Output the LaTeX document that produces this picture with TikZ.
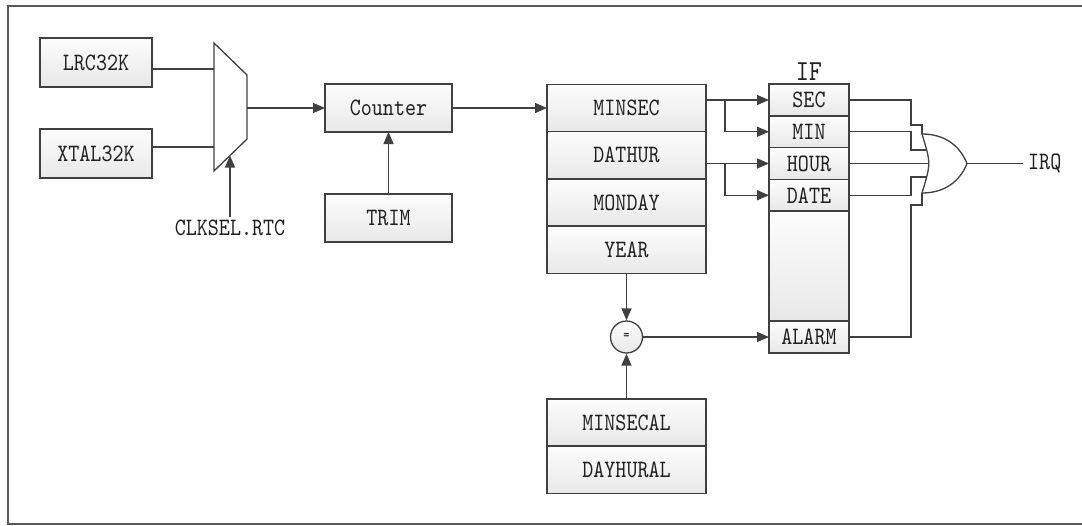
\documentclass[tikz,border=0pt]{standalone}
\usepackage{fontspec}
\usepackage{tikz}
\usetikzlibrary{positioning,arrows.meta}

\newfontfamily\lblmono{lmmono10-regular}[Extension=.otf, FakeStretch=0.84]
\newcommand{\lblfont}{\fontsize{25}{28}\selectfont\lblmono}
\tikzset{
  box/.style={draw=black!75, line width=1.6pt, top color=black!1, bottom color=black!9,
    inner sep=0pt, outer sep=0pt, font=\lblfont, text=black!88},
  src/.style={box, minimum width=112pt, minimum height=49pt},
  blk/.style={box, minimum width=127pt, minimum height=48pt},
  reg/.style={box, minimum width=159pt, minimum height=47.25pt},
  flag/.style={box, minimum width=80pt, minimum height=31.75pt},
  wirecol/.style={black!75, line width=1.3pt},
  wire/.style={wirecol, draw},
}

\begin{document}
\begin{tikzpicture}[x=1pt, y=-1pt, >={Triangle[length=12pt,width=10pt]}]
 \useasboundingbox (0,0) rectangle (1082,525);
 \draw[black!65, line width=1.6pt] (1082,6) -- (8,6) -- (8,524) -- (1082,524);

 % clock sources and mux
 \node[src] (lrc) at (96,62.5) {LRC32K};
 \node[src] (xtal) at (96,153.5) {XTAL32K};
 \draw[wire] (214,43) -- (247,75) -- (247,139) -- (214,171) -- cycle;
 \coordinate (mux-a) at (214,69);
 \coordinate (mux-b) at (214,147);
 \coordinate (mux-o) at (247,108);
 \coordinate (mux-s) at (230,155.5);
 \node[font=\lblfont, text=black!88] (clksel) at (230,228) {CLKSEL.RTC};

 % counter
 \node[blk] (cnt) at (388.5,108) {Counter};
 \node[blk] (trim) at (388.5,218) {TRIM};

 % time registers
 \node[reg] (minsec) at (626.5,108) {MINSEC};
 \node[reg, below=0pt of minsec] (dathur) {DATHUR};
 \node[reg, below=0pt of dathur] (monday) {MONDAY};
 \node[reg, below=0pt of monday] (year) {YEAR};
 \node[reg] (minsecal) at (626.5,422.5) {MINSECAL};
 \node[reg, below=0pt of minsecal] (dayhural) {DAYHURAL};

 % IF flags
 \node[flag] (ifsec) at (809,100) {SEC};
 \node[flag, below=0pt of ifsec] (ifmin) {MIN};
 \node[flag, below=0pt of ifmin] (ifhour) {HOUR};
 \node[flag, below=0pt of ifhour] (ifdate) {DATE};
 \node[flag, minimum height=110pt, below=0pt of ifdate] (ifgap) {};
 \node[flag, below=0pt of ifgap] (ifalarm) {ALARM};
 \node[font=\fontsize{29}{32}\selectfont\lblmono, text=black!88, above=0pt of ifsec] (iflbl) {IF};

 % compare
 \node[circle, draw=black!75, line width=1.3pt, top color=black!1, bottom color=black!9,
   minimum size=32pt, inner sep=0pt, font=\fontsize{14}{16}\selectfont\lblmono] (eq) at (year |- ifalarm) {=};

 % or gate
 \coordinate (gt) at (922,134);
 \coordinate (gb) at (922,193);
 \coordinate (gtip) at (967,163.5);
 \coordinate (s1) at (911,125);
 \coordinate (m1) at (911,150);
 \coordinate (d1) at (911,177);
 \coordinate (a1) at (911,205);
 \coordinate (g2) at (926.8,150);
 \coordinate (g3) at (928.75,163.5);
 \coordinate (g4) at (926.8,177);
 \coordinate (br) at (725,0);
 \draw[wire] (gt) .. controls (945,134) and (960,146) .. (gtip) .. controls (960,181) and (945,193) .. (gb) .. controls (931,163.5) .. (gt);
 \node[font=\lblfont, text=black!88, anchor=west, inner sep=5pt] (irq) at (1023,163.5) {IRQ};

 \draw[wire] (lrc.east |- mux-a) -- (mux-a);
 \draw[wire] (xtal.east |- mux-b) -- (mux-b);
 \path[wirecol, ->]
  (mux-o) edge (cnt)
  (clksel) edge (mux-s)
  (trim) edge (cnt)
  (cnt) edge (minsec)
  (year) edge (eq)
  (minsecal) edge (eq)
  (eq) edge (ifalarm);
 \draw[wire, ->] (minsec.east |- ifsec) -- (ifsec.west);
 \draw[wire, ->] (dathur.east |- ifhour) -- (ifhour.west);
 \draw[wire, ->] (br |- ifsec) |- (ifmin.west);
 \draw[wire, ->] (br |- ifhour) |- (ifdate.west);

 \draw[wire] (ifsec.east) -| (s1) -| (gt);
 \draw[wire] (ifmin.east) -| (m1) -- (g2);
 \draw[wire] (ifhour.east) -- (g3);
 \draw[wire] (ifdate.east) -| (d1) -- (g4);
 \draw[wire] (ifalarm.east) -| (a1) -| (gb);
 \draw[wire] (gtip) -- (irq);
\end{tikzpicture}
\end{document}
